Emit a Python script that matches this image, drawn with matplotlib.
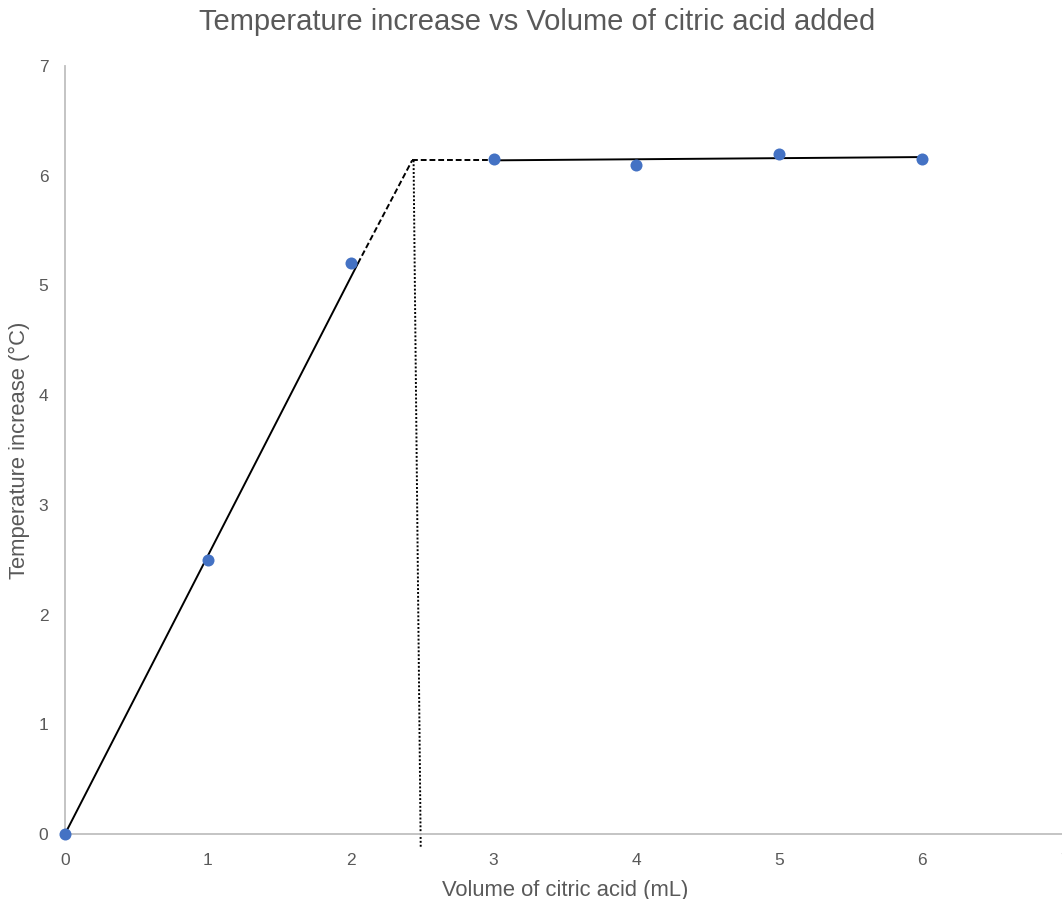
import matplotlib
matplotlib.use("Agg")
import matplotlib.pyplot as plt

# Data
volume = [0, 1, 2, 3, 4, 5, 6]
temp_increase = [0, 2.5, 5.2, 6.15, 6.1, 6.2, 6.15]

# Trend lines
rise_solid_x = [0, 2.05]
rise_solid_y = [0, 5.2]
rise_dash_x = [2.05, 2.43]
rise_dash_y = [5.2, 6.14]
flat_dash_x = [2.43, 3.0]
flat_dash_y = [6.14, 6.14]
flat_solid_x = [3.0, 6.0]
flat_solid_y = [6.14, 6.17]
endpoint_x = [2.44, 2.49]
endpoint_y = [6.14, -0.12]

x_ticks = [0, 1, 2, 3, 4, 5, 6, 7]
y_ticks = [0, 1, 2, 3, 4, 5, 6, 7]

plt.rcParams['font.family'] = ['Liberation Sans', 'DejaVu Sans']
grey = '#595959'

fig = plt.figure(figsize=(10.62, 8.99), dpi=100)
ax = fig.add_axes([65/1062, 65/899, 1000/1062, 768/899])

ax.plot(rise_solid_x, rise_solid_y, color='black', lw=1.4, zorder=2)
ax.plot(rise_dash_x, rise_dash_y, color='black', lw=1.4, ls=(0, (3, 1.5)), zorder=2)
ax.plot(flat_dash_x, flat_dash_y, color='black', lw=1.4, ls=(0, (3, 1.5)), zorder=2)
ax.plot(flat_solid_x, flat_solid_y, color='black', lw=1.4, zorder=2)
ax.plot(endpoint_x, endpoint_y, color='black', lw=1.4, ls=(0, (1, 1)), zorder=2, clip_on=False)

ax.scatter(volume, temp_increase, s=75, color='#4472C4', zorder=3, clip_on=False, linewidths=0)

ax.set_xlim(0, 7)
ax.set_ylim(0, 7)
ax.set_xticks(x_ticks)
ax.set_yticks(y_ticks)
ax.tick_params(length=0, labelsize=12.5, colors=grey, pad=12)
ax.tick_params(axis='x', pad=14)

for s in ['top', 'right']:
    ax.spines[s].set_visible(False)
for s in ['left', 'bottom']:
    ax.spines[s].set_color('#BFBFBF')
    ax.spines[s].set_linewidth(1.3)

ax.set_xlabel('Volume of citric acid (mL)', fontsize=15.8, color=grey, labelpad=8)
ax.set_ylabel('Temperature increase (\u00b0C)', fontsize=15.8, color=grey, labelpad=6)
fig.text(537/1062, 1 - 22/899, 'Temperature increase vs Volume of citric acid added',
         fontsize=21, color=grey, ha='center', va='center')

fig.savefig('out.png', dpi=100)
